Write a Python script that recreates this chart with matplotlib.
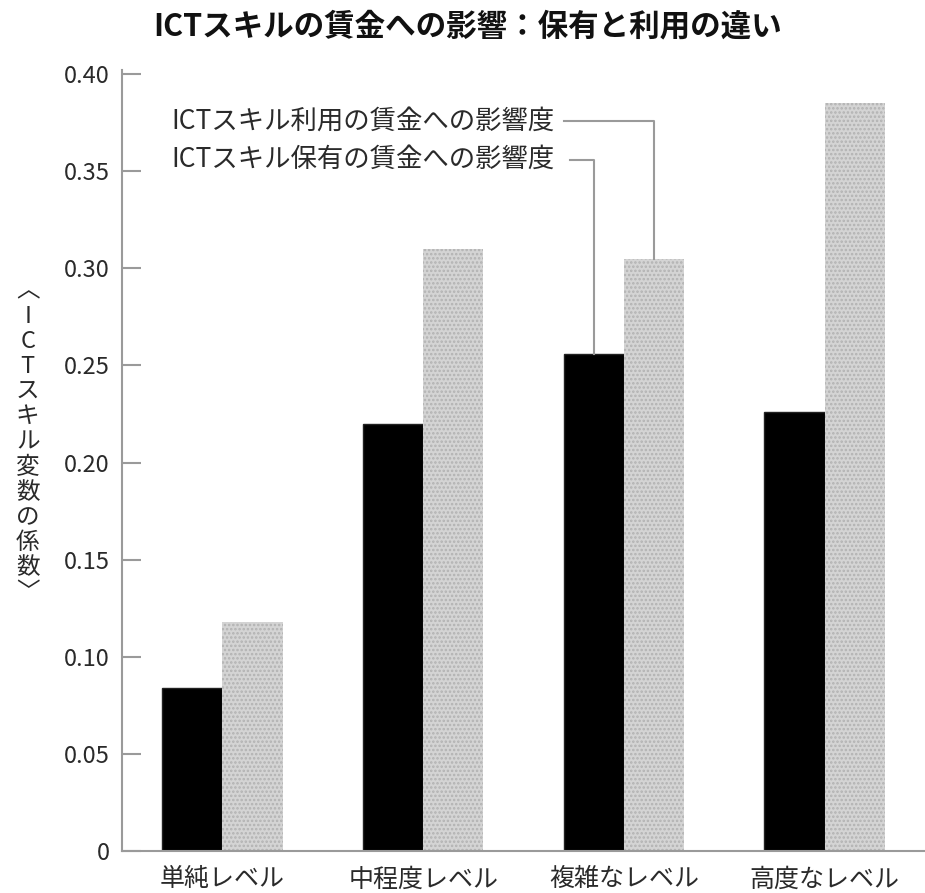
import matplotlib.pyplot as plt
import numpy as np

plt.rcParams['font.family'] = ['Noto Sans CJK JP', 'DejaVu Sans']
plt.rcParams['hatch.linewidth'] = 1.2

# 係数（ICTスキル変数）
levels = ['単純レベル', '中程度レベル', '複雑なレベル', '高度なレベル']
hoyu = [0.084, 0.220, 0.256, 0.226]     # ICTスキル保有
riyo = [0.118, 0.310, 0.305, 0.385]     # ICTスキル利用
yticks = [0, 0.05, 0.10, 0.15, 0.20, 0.25, 0.30, 0.35, 0.40]
ylabels = ['0', '0.05', '0.10', '0.15', '0.20', '0.25', '0.30', '0.35', '0.40']

grid_c = '#9a9a9a'
txt_c = '#2a2a2a'

fig = plt.figure(figsize=(9.25, 8.93), dpi=100)
ax = fig.add_axes([0.132, 0.047, 0.868, 0.870])

x = np.arange(len(levels))
w = 0.30
ax.bar(x - w / 2, hoyu, w, color='black', edgecolor='#222222', linewidth=1)
ax.bar(x + w / 2, riyo, w, color='#d4d4d4', edgecolor='#b2b2b2',
       hatch='....', linewidth=0)

ax.set_xlim(-0.5, 3.5)
ax.set_ylim(0, 0.40)
ax.set_yticks(yticks)
ax.set_yticklabels(ylabels)
ax.set_xticks(x)
ax.set_xticklabels(levels, fontsize=18, color=txt_c)

for s in ['top', 'right']:
    ax.spines[s].set_visible(False)
for s in ['left', 'bottom']:
    ax.spines[s].set_color(grid_c)
    ax.spines[s].set_linewidth(1.5)
ax.spines['left'].set_bounds(0, 0.402)

ax.tick_params(axis='y', direction='in', length=14, width=1.5, color=grid_c,
               labelsize=17, labelcolor=txt_c, pad=9)
ax.tick_params(axis='x', length=0, pad=11)

# 凡例の代わりの引き出し線
i = 2
ax.text(1.655, 0.376, 'ICTスキル利用の賃金への影響度', fontsize=19,
        color=txt_c, ha='right', va='center')
ax.plot([1.70, x[i] + w / 2, x[i] + w / 2], [0.376, 0.376, riyo[i]],
        color=grid_c, lw=1.5)
ax.text(1.655, 0.356, 'ICTスキル保有の賃金への影響度', fontsize=19,
        color=txt_c, ha='right', va='center')
ax.plot([1.73, x[i] - w / 2, x[i] - w / 2], [0.356, 0.356, hoyu[i]],
        color=grid_c, lw=1.5)

# 縦書きの軸ラベル
vlabel = '\n'.join('︿ICTスキル変数の係数﹀')
fig.text(0.030, 0.505, vlabel, fontsize=17, color=txt_c, ha='center',
         va='center', linespacing=1.12)

fig.text(0.505, 0.970, 'ICTスキルの賃金への影響：保有と利用の違い',
         fontsize=22, fontweight='bold', color='#111111', ha='center',
         va='center')

fig.savefig('out.png', dpi=100)
